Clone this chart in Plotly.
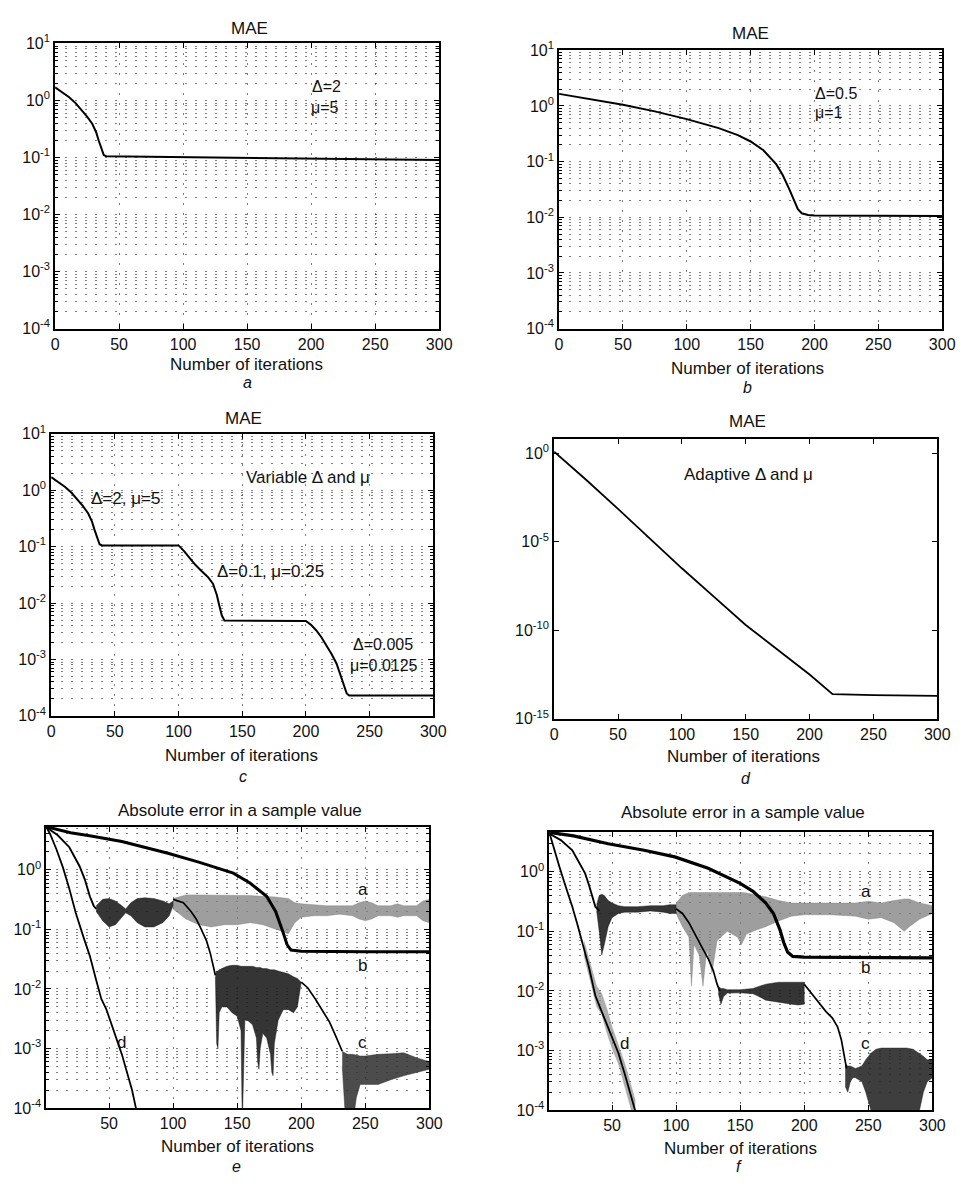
import math
import plotly.graph_objects as go

W, H = 966, 1183

# ---------------- data ----------------
# Panel a: MAE, fixed Delta=2, mu=5
a_x = [0, 5, 11, 16, 21, 25, 29, 32, 34, 36, 38, 40, 60, 100, 150, 200, 250, 300]
a_y = [1.7, 1.42, 1.14, 0.9, 0.67, 0.52, 0.39, 0.28, 0.2, 0.15, 0.11, 0.105, 0.104, 0.102, 0.099, 0.096, 0.093, 0.09]

# Panel b: MAE, fixed Delta=0.5, mu=1
b_x = [0, 25, 50, 75, 100, 125, 140, 150, 160, 170, 175, 180, 184, 187, 190, 195, 200, 250, 300]
b_y = [1.65, 1.3, 1.05, 0.8, 0.58, 0.4, 0.3, 0.23, 0.16, 0.09, 0.058, 0.033, 0.02, 0.014, 0.0118, 0.011, 0.0108, 0.0106, 0.0105]

# Panel c: MAE, variable Delta and mu
c_x = [0, 5, 11, 16, 21, 25, 29, 32, 34, 36, 38, 40, 70, 100, 104, 108, 113, 118, 123, 127, 130, 132, 134, 136,
       170, 200, 204, 208, 212, 216, 220, 224, 227, 230, 232, 234, 260, 300]
c_y = [1.7, 1.42, 1.14, 0.9, 0.67, 0.52, 0.39, 0.28, 0.2, 0.15, 0.11, 0.105, 0.105, 0.105, 0.085, 0.065, 0.048,
       0.037, 0.029, 0.022, 0.014, 0.009, 0.006, 0.0049, 0.0048, 0.0048, 0.0041, 0.0033, 0.0025, 0.0018, 0.00126,
       0.00085, 0.00055, 0.00035, 0.00025, 0.00023, 0.00023, 0.00023]

# Panel d: MAE, adaptive Delta and mu
d_x = [0, 25, 50, 75, 100, 125, 150, 175, 200, 218, 250, 300]
d_y = [1.2, 0.0316, 7.1e-4, 1.41e-5, 3.16e-7, 7.9e-9, 2.0e-10, 7.9e-12, 3.2e-13, 2.5e-14, 2.2e-14, 2.0e-14]

# Panel e: absolute error in a sample value
e_b_x = [1, 10, 20, 36, 60, 96, 120, 147, 160, 173, 180, 186, 189, 192, 200, 250, 300]
e_b_y = [5.3, 4.7, 4.2, 3.7, 3.0, 1.9, 1.35, 0.88, 0.6, 0.36, 0.2, 0.087, 0.055, 0.045, 0.043, 0.042, 0.042]

e_ac_x = [1, 10, 19, 27, 31, 35, 38, 40]
e_ac_y = [5.2, 3.8, 2.4, 1.15, 0.7, 0.36, 0.25, 0.22]

e_a1_x = [40, 45, 50, 55, 60, 63, 67, 72, 78, 85, 92, 97, 100]
e_a1_hi = [0.25, 0.32, 0.33, 0.3, 0.25, 0.22, 0.28, 0.33, 0.34, 0.33, 0.3, 0.27, 0.3]
e_a1_lo = [0.2, 0.14, 0.11, 0.12, 0.16, 0.19, 0.17, 0.13, 0.11, 0.11, 0.13, 0.17, 0.25]

e_a2_x = [100, 110, 120, 130, 140, 150, 160, 170, 180, 190, 195, 200, 210, 220, 230, 240, 245, 250, 255, 260,
          270, 275, 280, 290, 295, 300]
e_a2_hi = [0.33, 0.38, 0.38, 0.38, 0.38, 0.37, 0.37, 0.36, 0.35, 0.33, 0.28, 0.27, 0.26, 0.25, 0.25, 0.25, 0.28,
           0.3, 0.28, 0.25, 0.25, 0.27, 0.25, 0.25, 0.3, 0.32]
e_a2_lo = [0.22, 0.15, 0.12, 0.11, 0.12, 0.12, 0.13, 0.12, 0.1, 0.085, 0.13, 0.16, 0.17, 0.17, 0.18, 0.17, 0.15,
           0.14, 0.15, 0.17, 0.17, 0.16, 0.17, 0.17, 0.14, 0.13]

e_c1_x = [100, 108, 114, 118, 122, 126, 129, 131, 133]
e_c1_y = [0.32, 0.28, 0.2, 0.15, 0.1, 0.065, 0.04, 0.025, 0.017]

e_c2_x = [133, 134, 135, 136, 138, 142, 146, 150, 153, 154, 155, 156, 158, 162, 165, 166, 167, 168, 170, 173,
          176, 177, 178, 179, 182, 186, 190, 194, 197, 200]
e_c2_hi = [0.017, 0.02, 0.02, 0.021, 0.022, 0.024, 0.025, 0.025, 0.024, 0.024, 0.024, 0.024, 0.024, 0.024, 0.023,
           0.023, 0.023, 0.023, 0.022, 0.022, 0.021, 0.021, 0.021, 0.021, 0.02, 0.019, 0.018, 0.016, 0.015, 0.013]
e_c2_lo = [0.016, 0.0012, 0.001, 0.004, 0.005, 0.005, 0.004, 0.0035, 0.002, 0.00005, 0.0006, 0.003, 0.003, 0.0025,
           0.0015, 0.0006, 0.00045, 0.001, 0.0018, 0.0015, 0.0008, 0.0004, 0.00035, 0.0012, 0.003, 0.0045, 0.0045,
           0.004, 0.005, 0.013]

e_c3_x = [200, 205, 211, 216, 222, 226, 230, 232]
e_c3_y = [0.013, 0.0105, 0.0068, 0.0045, 0.0028, 0.0018, 0.0011, 0.0009]

e_c4_x = [232, 234, 236, 240, 243, 246, 250, 260, 270, 280, 290, 300]
e_c4_hi = [9e-4, 8.5e-4, 8e-4, 8e-4, 7.8e-4, 7.5e-4, 7.5e-4, 8e-4, 8.2e-4, 8.5e-4, 7e-4, 6e-4]
e_c4_lo = [5e-4, 1e-4, 5e-5, 5e-5, 1.5e-4, 2.5e-4, 2.5e-4, 2.5e-4, 3e-4, 3.5e-4, 4e-4, 4.5e-4]

e_d_x = [1, 4, 9, 14, 19, 24, 30, 35, 40, 44, 48, 53, 57, 60, 64, 68, 71, 73]
e_d_y = [5.2, 4.0, 2.2, 1.1, 0.48, 0.19, 0.075, 0.036, 0.014, 0.0068, 0.0045, 0.0022, 0.0012, 0.0008, 0.0004,
         0.0002, 0.0001, 0.00007]

# Panel f: absolute error in a sample value
f_b_x = [1, 20, 47, 75, 99, 125, 150, 160, 170, 176, 181, 184, 187, 191, 200, 250, 300]
f_b_y = [4.6, 4.0, 2.96, 2.3, 1.78, 1.15, 0.64, 0.47, 0.3, 0.2, 0.107, 0.065, 0.045, 0.038, 0.037, 0.036, 0.036]

f_ac_x = [1, 10, 19, 24, 29, 32, 35, 37, 40]
f_ac_y = [4.4, 3.4, 2.3, 1.5, 0.94, 0.6, 0.34, 0.26, 0.22]

f_a1_x = [38, 40, 42, 44, 47, 50, 55, 60, 70, 80, 90, 95, 100]
f_a1_hi = [0.28, 0.4, 0.42, 0.4, 0.33, 0.3, 0.27, 0.26, 0.26, 0.27, 0.27, 0.28, 0.28]
f_a1_lo = [0.22, 0.1, 0.04, 0.06, 0.12, 0.17, 0.2, 0.21, 0.21, 0.22, 0.21, 0.2, 0.2]

f_a2_x = [100, 105, 110, 112, 114, 118, 121, 124, 128, 132, 140, 148, 151, 155, 160, 170, 180, 190, 200, 220,
          240, 250, 260, 270, 278, 282, 290, 300]
f_a2_hi = [0.3, 0.4, 0.45, 0.45, 0.45, 0.46, 0.46, 0.46, 0.46, 0.45, 0.45, 0.45, 0.45, 0.44, 0.42, 0.38, 0.33,
           0.3, 0.3, 0.3, 0.3, 0.32, 0.3, 0.33, 0.35, 0.35, 0.3, 0.27]
f_a2_lo = [0.2, 0.12, 0.08, 0.012, 0.06, 0.04, 0.012, 0.05, 0.02, 0.07, 0.1, 0.08, 0.06, 0.09, 0.1, 0.12, 0.15,
           0.18, 0.19, 0.19, 0.18, 0.16, 0.17, 0.14, 0.1, 0.12, 0.16, 0.2]

f_c1_x = [100, 105, 110, 115, 120, 125, 129, 132, 134]
f_c1_y = [0.24, 0.2, 0.14, 0.09, 0.055, 0.035, 0.022, 0.013, 0.01]

f_c2_x = [133, 135, 137, 140, 150, 160, 165, 170, 180, 190, 195, 200]
f_c2_hi = [0.012, 0.011, 0.011, 0.0105, 0.0105, 0.011, 0.012, 0.013, 0.014, 0.014, 0.014, 0.014]
f_c2_lo = [0.009, 0.006, 0.008, 0.0092, 0.0093, 0.009, 0.008, 0.007, 0.0065, 0.006, 0.0058, 0.006]

f_c3_x = [200, 205, 211, 217, 222, 226, 229, 231, 233]
f_c3_y = [0.013, 0.0095, 0.0064, 0.0045, 0.0035, 0.0025, 0.0015, 0.0008, 0.0005]

f_c4_x = [232, 234, 236, 238, 240, 245, 248, 252, 256, 260, 270, 280, 285, 290, 293, 296, 300]
f_c4_hi = [6e-4, 5.5e-4, 5.5e-4, 5.2e-4, 5e-4, 5.5e-4, 7e-4, 9e-4, 1.05e-3, 1.1e-3, 1.1e-3, 1.1e-3, 1.05e-3,
           9e-4, 8e-4, 7e-4, 7e-4]
f_c4_lo = [2.5e-4, 2e-4, 3e-4, 3.5e-4, 3.5e-4, 3e-4, 2e-4, 1e-4, 5e-5, 5e-5, 5e-5, 5e-5, 6e-5, 1e-4, 2e-4,
           3e-4, 3.5e-4]

f_d_x = [1, 5, 9, 14, 19, 23, 27, 32, 37, 42, 47, 51, 55, 60, 65, 68, 70]
f_d_y = [4.6, 2.3, 1.2, 0.55, 0.26, 0.13, 0.064, 0.025, 0.0083, 0.0045, 0.0023, 0.0014, 0.0009, 0.0004,
         0.00016, 0.0001, 0.00007]

f_dband_x = [28, 33, 38, 42, 46, 50, 55, 60, 64, 68]
f_dband_hi = [0.07, 0.03, 0.012, 0.009, 0.005, 0.0025, 0.0012, 0.0006, 0.0003, 0.00015]
f_dband_lo = [0.04, 0.015, 0.0055, 0.004, 0.002, 0.0011, 0.0006, 0.00025, 0.00012, 0.00006]

# Tick labels
x_ticks_full = [0, 50, 100, 150, 200, 250, 300]
x_ticks_e = [50, 100, 150, 200, 250, 300]
y_exp_std = [-4, -3, -2, -1, 0, 1]
y_exp_e = [-4, -3, -2, -1, 0]
y_exp_d = [-15, -10, -5, 0]

# ---------------- styling / layout ----------------
FONT = "Liberation Sans, Arial, Helvetica, sans-serif"
TXT = "#111111"
GRID_COLOR = "rgba(60,60,60,0.65)"
GRID_DASH = "2px,8px"
TICK_SIZE = 16
TEXT_SIZE = 17

panels = [
    dict(px=(52, 443), py=(33, 323), xr=[0, 300], yr=[-4, 1], xt=x_ticks_full, ye=y_exp_std, grid=True),
    dict(px=(565, 955), py=(40, 323), xr=[0, 300], yr=[-4, 1], xt=x_ticks_full, ye=y_exp_std, grid=True),
    dict(px=(48, 437), py=(430, 717), xr=[0, 300], yr=[-4, 1], xt=x_ticks_full, ye=y_exp_std, grid=True),
    dict(px=(560, 950), py=(435, 720), xr=[0, 300], yr=[-15, 0.82], xt=x_ticks_full, ye=y_exp_d, grid=False),
    dict(px=(43, 433), py=(830, 1116), xr=[1, 300], yr=[-4, 0.72], xt=x_ticks_e, ye=y_exp_e, grid=True),
    dict(px=(555, 945), py=(835, 1118), xr=[1, 300], yr=[-4, 0.67], xt=x_ticks_e, ye=y_exp_e, grid=True),
]


def ax_ids(i):
    return ("x" if i == 0 else f"x{i+1}"), ("y" if i == 0 else f"y{i+1}")


def exp_label(e):
    return "10<sup>" + ("-" + str(-e) if e < 0 else str(e)) + "</sup>"


fig = go.Figure()
layout = dict(width=W, height=H, margin=dict(l=0, r=0, t=0, b=0),
              paper_bgcolor="white", plot_bgcolor="white", showlegend=False,
              font=dict(family=FONT, color=TXT, size=TICK_SIZE))

for i, p in enumerate(panels):
    xid, yid = ax_ids(i)
    xkey = "xaxis" if i == 0 else f"xaxis{i+1}"
    ykey = "yaxis" if i == 0 else f"yaxis{i+1}"
    lo_e, hi_e = p["yr"]
    minor_vals = [k * 10.0 ** e for e in range(int(lo_e) - 1, int(hi_e) + 1) for k in range(2, 10)
                  if lo_e <= math.log10(k * 10.0 ** e) <= hi_e]
    layout[xkey] = dict(
        domain=[p["px"][0] / W, p["px"][1] / W], anchor=yid, range=p["xr"],
        tickmode="array", tickvals=p["xt"], ticktext=[str(v) for v in p["xt"]],
        ticks="inside", ticklen=5, tickwidth=1, tickcolor="black",
        showline=True, linecolor="black", linewidth=1.8, mirror="allticks",
        showgrid=p["grid"], gridcolor=GRID_COLOR, griddash=GRID_DASH, gridwidth=1,
        zeroline=False, tickfont=dict(size=TICK_SIZE, family=FONT, color=TXT),
    )
    ycfg = dict(
        domain=[1 - p["py"][1] / H, 1 - p["py"][0] / H], anchor=xid, type="log", range=p["yr"],
        tickmode="array", tickvals=[10.0 ** e for e in p["ye"]], ticktext=[exp_label(e) for e in p["ye"]],
        ticks="inside", ticklen=5, tickwidth=1, tickcolor="black",
        showline=True, linecolor="black", linewidth=1.8, mirror="allticks",
        showgrid=p["grid"], gridcolor=GRID_COLOR, griddash=GRID_DASH, gridwidth=1,
        zeroline=False, tickfont=dict(size=TICK_SIZE, family=FONT, color=TXT),
    )
    if p["grid"]:
        ycfg["minor"] = dict(tickmode="array", tickvals=minor_vals, ticks="inside", ticklen=3,
                             tickcolor="black", showgrid=True, gridcolor=GRID_COLOR,
                             griddash=GRID_DASH, gridwidth=1)
    layout[ykey] = ycfg

fig.update_layout(**layout)


def add_line(i, x, y, width=1.6, color="black"):
    xid, yid = ax_ids(i)
    fig.add_trace(go.Scatter(x=x, y=y, xaxis=xid, yaxis=yid, mode="lines",
                             line=dict(color=color, width=width), hoverinfo="skip"))


def add_band(i, x, lo, hi, color):
    xid, yid = ax_ids(i)
    fig.add_trace(go.Scatter(x=list(x) + list(x)[::-1], y=list(hi) + list(lo)[::-1],
                             xaxis=xid, yaxis=yid, mode="lines", fill="toself",
                             fillcolor=color, line=dict(width=0.5, color=color), hoverinfo="skip"))


# a, b, c, d
add_line(0, a_x, a_y, 2.0)
add_line(1, b_x, b_y, 2.0)
add_line(2, c_x, c_y, 2.0)
add_line(3, d_x, d_y, 1.8)

# e
GREY = "rgba(125,125,125,0.75)"
DARK = "rgba(25,25,25,0.88)"
add_band(4, e_a2_x, e_a2_lo, e_a2_hi, GREY)
add_band(4, e_a1_x, e_a1_lo, e_a1_hi, DARK)
add_band(4, e_c2_x, e_c2_lo, e_c2_hi, DARK)
add_band(4, e_c4_x, e_c4_lo, e_c4_hi, "rgba(45,45,45,0.85)")
add_line(4, e_ac_x, e_ac_y, 1.9)
add_line(4, e_c1_x, e_c1_y, 1.7)
add_line(4, e_c3_x, e_c3_y, 1.7)
add_line(4, e_d_x, e_d_y, 1.8)
add_line(4, e_b_x, e_b_y, 3.0)

# f
add_band(5, f_a2_x, f_a2_lo, f_a2_hi, GREY)
add_band(5, f_dband_x, f_dband_lo, f_dband_hi, "rgba(140,140,140,0.7)")
add_band(5, f_a1_x, f_a1_lo, f_a1_hi, DARK)
add_band(5, f_c2_x, f_c2_lo, f_c2_hi, DARK)
add_band(5, f_c4_x, f_c4_lo, f_c4_hi, "rgba(35,35,35,0.88)")
add_line(5, f_ac_x, f_ac_y, 1.9)
add_line(5, f_c1_x, f_c1_y, 1.7)
add_line(5, f_c3_x, f_c3_y, 1.7)
add_line(5, f_d_x, f_d_y, 1.8)
add_line(5, f_b_x, f_b_y, 3.2)


# ---------------- text ----------------
def paper_text(text, px, py, size=TEXT_SIZE, italic=False):
    fig.add_annotation(x=px / W, y=1 - py / H, xref="paper", yref="paper", text=text, showarrow=False,
                       xanchor="center", yanchor="middle",
                       font=dict(size=size, family=FONT, color=TXT,
                                 style="italic" if italic else "normal"))


titles = [("MAE", 250, 18), ("MAE", 760, 23), ("MAE", 244, 415), ("MAE", 757, 418),
          ("Absolute error in a sample value", 240, 813), ("Absolute error in a sample value", 752, 815)]
for t, px, py in titles:
    paper_text(t, px, py)

xlabels = [(247, 360), (757, 364), (242, 757), (753, 758), (238, 1155), (750, 1157)]
for px, py in xlabels:
    paper_text("Number of iterations", px, py)

subs = [("a", 248, 378), ("b", 757, 383), ("c", 243, 779), ("d", 755, 781), ("e", 237, 1175), ("f", 748, 1175)]
for t, px, py in subs:
    paper_text(t, px, py, 16, italic=True)


def data_text(i, text, x, ylog, anchor="left", size=TEXT_SIZE):
    xid, yid = ax_ids(i)
    fig.add_annotation(x=x, y=ylog, xref=xid, yref=yid, text=text, showarrow=False,
                       xanchor=anchor, yanchor="middle", font=dict(size=size, family=FONT, color=TXT))


data_text(0, "Δ=2", 199, 0.25, size=16)
data_text(0, "μ=5", 198, -0.12, size=16)
data_text(1, "Δ=0.5", 199, 0.23, size=16)
data_text(1, "μ=1", 199, -0.12, size=16)
data_text(2, "Variable Δ and μ", 151, 0.23)
data_text(2, "Δ=2, μ=5", 30, -0.145)
data_text(2, "Δ=0.1, μ=0.25", 129, -1.44)
data_text(2, "Δ=0.005", 235, -2.73, size=16)
data_text(2, "μ=0.0125", 233, -3.1, size=16)
data_text(3, "Adaptive Δ and μ", 100, -1.2)
for i in (4, 5):
    data_text(i, "a", 248, -0.33, "center")
    data_text(i, "b", 248, -1.61, "center")
    data_text(i, "c", 248, -2.89, "center")
    data_text(i, "d", 60, -2.89, "center")

fig.write_html("out.html")
